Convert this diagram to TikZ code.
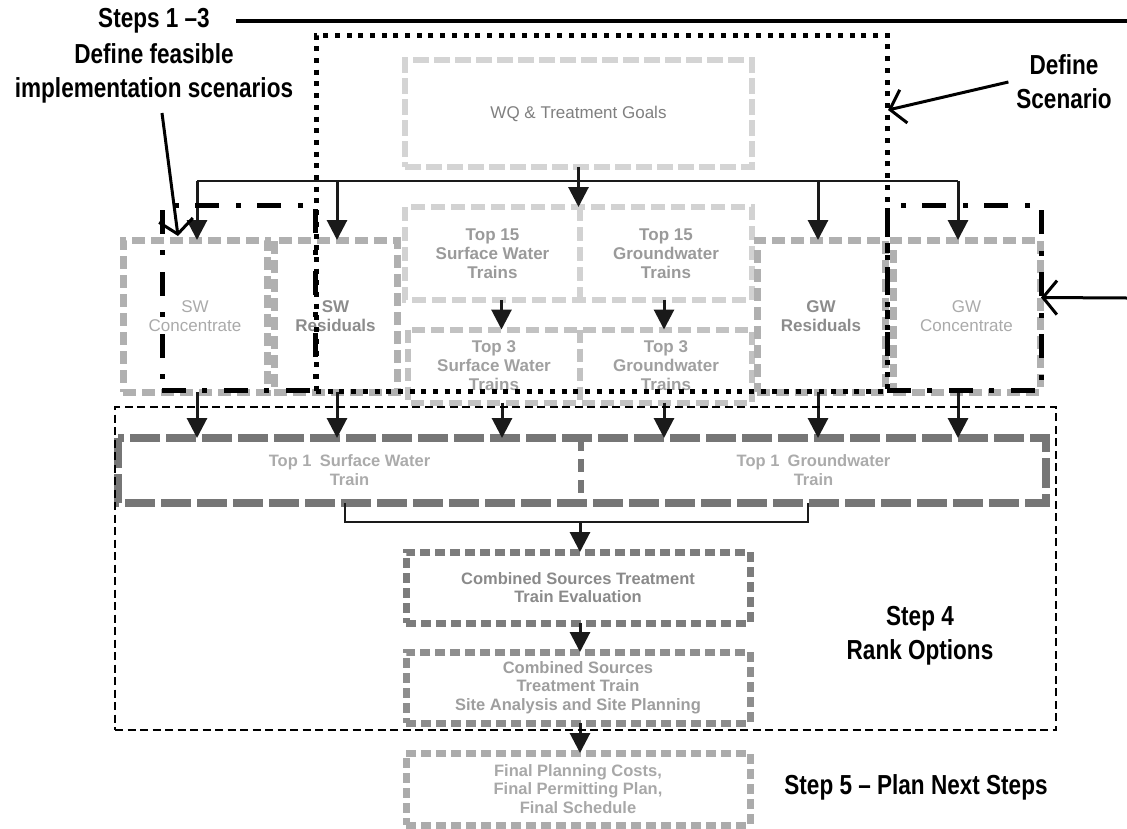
\documentclass[tikz,border=0pt]{standalone}
\usepackage{fontspec}
\setmainfont{Liberation Sans}
\newfontfamily\labfont[FakeStretch=0.82]{Liberation Sans}
\usetikzlibrary{arrows.meta}
\definecolor{cWQ}{HTML}{D4D4D4}
\definecolor{tWQ}{HTML}{7F7F7F}
\definecolor{cTF}{HTML}{D2D2D2}
\definecolor{tTF}{HTML}{9A9A9A}
\definecolor{cTT}{HTML}{C2C2C2}
\definecolor{tTT}{HTML}{A0A0A0}
\definecolor{cSW}{HTML}{B0B0B0}
\definecolor{tSWc}{HTML}{AAAAAA}
\definecolor{tSWr}{HTML}{8C8C8C}
\definecolor{cTO}{HTML}{767676}
\definecolor{tTO}{HTML}{ABABAB}
\definecolor{cEv}{HTML}{7C7C7C}
\definecolor{tEv}{HTML}{8A8A8A}
\definecolor{cSi}{HTML}{8E8E8E}
\definecolor{tSi}{HTML}{9E9E9E}
\definecolor{cFi}{HTML}{ABABAB}
\definecolor{tFi}{HTML}{A8A8A8}
\definecolor{ink}{HTML}{1A1A1A}
\begin{document}
\begin{tikzpicture}[x=1pt,y=-1pt,
  every node/.style={inner sep=0pt, outer sep=0pt},
  box/.style={draw, align=center, font=\fontsize{17}{19}\selectfont},
  txt/.style={align=center, font=\fontsize{17}{19}\selectfont},
  wqbox/.style={box, draw=cWQ, text=tWQ, line width=6pt, dash pattern=on 16pt off 5pt},
  tftext/.style={txt, text=tTF, font=\fontsize{17}{19}\selectfont\bfseries},
  tfline/.style={draw=cTF, line width=6pt, dash pattern=on 14pt off 6pt},
  tttext/.style={txt, text=tTT, font=\fontsize{17}{19}\selectfont\bfseries},
  ttline/.style={draw=cTT, line width=6pt, dash pattern=on 13pt off 6pt},
  swbox/.style={box, draw=cSW, line width=7pt, dash pattern=on 13pt off 6pt},
  totext/.style={txt, text=tTO, font=\fontsize{16.5}{19}\selectfont\bfseries},
  toline/.style={draw=cTO, line width=8pt, dash pattern=on 30pt off 6pt},
  todiv/.style={draw=cTO, line width=6pt, dash pattern=on 13pt off 8pt},
  evbox/.style={box, draw=cEv, text=tEv, line width=7pt, dash pattern=on 10pt off 5pt, font=\fontsize{16.5}{18.5}\selectfont\bfseries},
  sibox/.style={box, draw=cSi, text=tSi, line width=7pt, dash pattern=on 10pt off 5pt, font=\fontsize{16.5}{18.5}\selectfont\bfseries},
  fibox/.style={box, draw=cFi, text=tFi, line width=7pt, dash pattern=on 10pt off 5pt, font=\fontsize{16.5}{18.5}\selectfont\bfseries},
  arr/.style={draw=ink, line width=3pt, -{Triangle[length=20pt,width=20pt]}},
  wire/.style={draw=ink, line width=2.8pt},
  ann/.style={draw=black, line width=3pt, -{Straight Barb[length=14pt,width=34pt,line width=3pt]}},
  dotframe/.style={draw=black, line width=5pt, dash pattern=on 5pt off 6.7pt},
  dashdotframe/.style={draw=black, line width=5pt, dash pattern=on 24pt off 16pt on 5pt off 17pt},
  stepframe/.style={draw=black, line width=1.8pt, dash pattern=on 8pt off 4.5pt},
  lab/.style={align=center, text=black, font=\labfont\bfseries\fontsize{27.5}{34}\selectfont}
]
\useasboundingbox (0,0) rectangle (1127,828);

% ---------- gray boxes ----------
\node[wqbox, minimum width=347pt, minimum height=107pt] (wq) at (578.5,113.5) {WQ \& Treatment Goals};

\node[tftext, minimum width=175pt, minimum height=93pt] (tfsw) at (492.5,253.5) {Top 15\\Surface Water\\Trains};
\node[tftext, minimum width=172pt, minimum height=93pt] (tfgw) at (666,253.5) {Top 15\\Groundwater\\Trains};
\draw[tfline] (tfsw.north west) rectangle (tfgw.south east);
\draw[tfline] (tfsw.north east) -- (tfsw.south east);

\node[tttext, minimum width=172pt, minimum height=73pt] (ttsw) at (494,366) {Top 3\\Surface Water\\Trains};
\node[tttext, minimum width=172pt, minimum height=73pt] (ttgw) at (666,366) {Top 3\\Groundwater\\Trains};
\draw[ttline] (ttsw.north west) rectangle (ttgw.south east);
\draw[ttline] (ttsw.north east) -- (ttsw.south east);

\node[swbox, text=tSWc, minimum width=144pt, minimum height=152pt] (swc) at (195,316) {SW\\Concentrate};
\node[swbox, text=tSWr, font=\fontsize{17}{19}\selectfont\bfseries, minimum width=123pt, minimum height=152pt] (swr) at (335.5,316) {SW\\Residuals};
\node[swbox, text=tSWr, font=\fontsize{17}{19}\selectfont\bfseries, minimum width=128pt, minimum height=152pt] (gwr) at (821,316) {GW\\Residuals};
\node[swbox, text=tSWc, minimum width=147pt, minimum height=152pt] (gwc) at (966.5,316) {GW\\Concentrate};

\node[totext, minimum width=463pt, minimum height=65pt] (tosw) at (349.5,470.5) {Top 1\enspace Surface Water\\Train};
\node[totext, minimum width=465pt, minimum height=65pt] (togw) at (813.5,470.5) {Top 1\enspace Groundwater\\Train};
\draw[toline] (tosw.north west) rectangle (togw.south east);
\draw[todiv] (tosw.north east) -- (tosw.south east);

\node[evbox, minimum width=344pt, minimum height=71pt] (ev) at (578,587.5) {Combined Sources Treatment\\Train Evaluation};
\node[sibox, minimum width=344pt, minimum height=71pt] (si) at (578,687.5) {Combined Sources\\Treatment Train\\Site Analysis and Site Planning};
\node[fibox, minimum width=344pt, minimum height=72pt] (fi) at (578,789) {Final Planning Costs,\\Final Permitting Plan,\\Final Schedule};

% ---------- connectors ----------
\coordinate (busL) at (197,181);
\coordinate (busR) at (958,181);
\draw[wire] (busL) -- (busR);
\draw[arr] (wq.south) -- (wq.south |- tfsw.north);
\draw[arr] (busL) -- (busL |- swc.north);
\draw[arr] ([xshift=1.5pt]swr.north |- busL) -- ([xshift=1.5pt]swr.north);
\draw[arr] ([xshift=-3pt]gwr.north |- busL) -- ([xshift=-3pt]gwr.north);
\draw[arr] (busR) -- (busR |- gwc.north);

\draw[arr] ([xshift=9pt]tfsw.south) -- ([xshift=9pt]tfsw.south |- ttsw.north);
\draw[arr] ([xshift=-2pt]tfgw.south) -- ([xshift=-2pt]tfgw.south |- ttgw.north);

\draw[arr] (busL |- swc.south) -- (busL |- tosw.north);
\draw[arr] ([xshift=1.5pt]swr.south) -- ([xshift=1.5pt]swr.south |- tosw.north);
\draw[arr] ([xshift=8pt]ttsw.south) -- ([xshift=8pt]ttsw.south |- tosw.north);
\draw[arr] ([xshift=-2pt]ttgw.south) -- ([xshift=-2pt]ttgw.south |- togw.north);
\draw[arr] ([xshift=-3pt]gwr.south) -- ([xshift=-3pt]gwr.south |- togw.north);
\draw[arr] (busR |- gwc.south) -- (busR |- togw.north);

\coordinate (join) at (580,522);
\draw[wire] ([xshift=-4.5pt]tosw.south) |- (join) -| ([xshift=-5.5pt]togw.south);
\draw[arr] (join) -- (join |- ev.north);
\draw[arr] ([xshift=2pt]ev.south) -- ([xshift=2pt]si.north);
\draw[arr] ([xshift=2pt]si.south) -- ([xshift=2pt]fi.north);

% ---------- black frames ----------
\node[dotframe, minimum width=571pt, minimum height=356pt] (scen) at (601.5,213) {};
\node[dashdotframe, minimum width=153pt, minimum height=185pt] (swframe) at (238.5,297.5) {};
\node[dashdotframe, minimum width=154pt, minimum height=185pt] (gwframe) at (964,297.5) {};
\node[stepframe, minimum width=941pt, minimum height=323pt] (stepfour) at (585.5,568.5) {};

% ---------- labels and annotation arrows ----------
\node[lab] (title) at (154,21) {Steps 1 \textendash3};
\node[lab] (sub) at (154,73) {Define feasible\\implementation scenarios};
\coordinate (edgeR) at (1127,21);
\draw[draw=black, line width=3.2pt] ([xshift=26pt]title.east) -- (edgeR);
\coordinate (fa1) at (162,113);
\coordinate (fa2) at (178,236);
\draw[ann] (fa1) -- (fa2);

\node[lab] (dscen) at (1064,82) {Define\\Scenario};
\coordinate (scenpt) at (888,110);
\draw[ann] ([xshift=-8pt,yshift=0pt]dscen.west) -- (scenpt);

\coordinate (rin) at (1127,298);
\draw[ann] (rin) -- (gwframe.east);

\node[lab] (stepfourlab) at (920,636) {Step 4\\Rank Options};
\node[lab] (stepfive) at (916,787) {Step 5 \textendash\ Plan Next Steps};
\end{tikzpicture}
\end{document}
